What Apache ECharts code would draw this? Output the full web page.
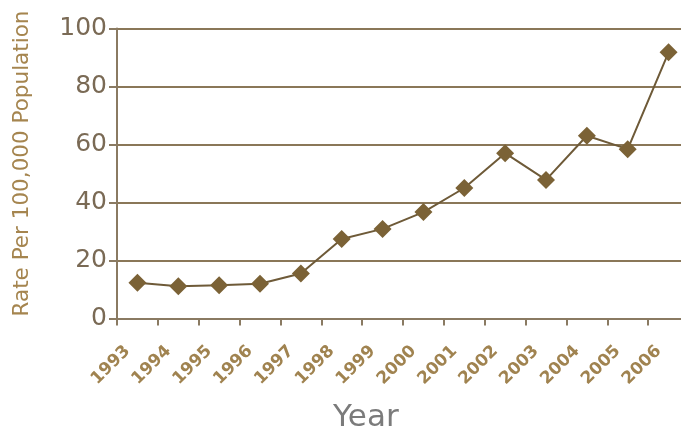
<!DOCTYPE html>
<html>
<head>
<meta charset="utf-8">
<script src="https://cdn.jsdelivr.net/npm/echarts@6/dist/echarts.min.js"></script>
<style>html,body{margin:0;padding:0;background:#fff;overflow:hidden;width:681px;height:433px;}#c{width:689px;height:433px;}</style>
</head>
<body>
<div id="c"></div>
<script>
const years = ['1993','1994','1995','1996','1997','1998','1999','2000','2001','2002','2003','2004','2005','2006'];
const rates = [12.3, 11.1, 11.5, 12.0, 15.5, 27.4, 30.9, 36.7, 45.0, 57.0, 47.8, 63.0, 58.4, 91.8];
const yTicks = [0, 20, 40, 60, 80, 100];

const chart = echarts.init(document.getElementById('c'));
chart.setOption({
  animation: false,
  backgroundColor: '#fff',
  title: {
    text: 'Year', left: 328, top: 397,
    textStyle: { color: '#7b7b7b', fontSize: 31, fontWeight: 'normal', fontFamily: 'DejaVu Sans' }
  },
  grid: { left: 117, right: 0, top: 28.5, bottom: 114.5 },
  xAxis: {
    type: 'category', data: years, boundaryGap: true,
    axisLine: { lineStyle: { color: '#8a7a62', width: 2 } },
    axisTick: { show: true, length: 7, lineStyle: { color: '#8a7a62', width: 2 } },
    axisLabel: { rotate: 45, margin: 20, color: '#a08350', fontSize: 17, fontWeight: 'bold', fontFamily: 'DejaVu Sans', padding: [0, 14, 0, 0] }
  },
  yAxis: {
    type: 'value', min: 0, max: 100, interval: 20,
    name: 'Rate Per 100,000 Population', nameLocation: 'middle', nameGap: 84,
    nameTextStyle: { color: '#a5854f', fontSize: 21.5, fontFamily: 'DejaVu Sans', padding: [0, 0, 0, 20] },
    axisLine: { show: true, lineStyle: { color: '#8a7a62', width: 2 } },
    axisTick: { show: true, length: 8, lineStyle: { color: '#8a7a62', width: 2 } },
    axisLabel: { margin: 10, color: '#7a6a55', fontSize: 25, fontFamily: 'DejaVu Sans',
      formatter: v => yTicks.includes(v) ? String(v) : '' },
    splitLine: { show: true, lineStyle: { color: '#8a7758', width: 2 } }
  },
  series: [{
    type: 'line', data: rates,
    symbol: 'diamond', symbolSize: 18,
    lineStyle: { color: '#6e5a38', width: 2 },
    itemStyle: { color: '#7b6236' }
  }]
});
</script>
</body>
</html>
